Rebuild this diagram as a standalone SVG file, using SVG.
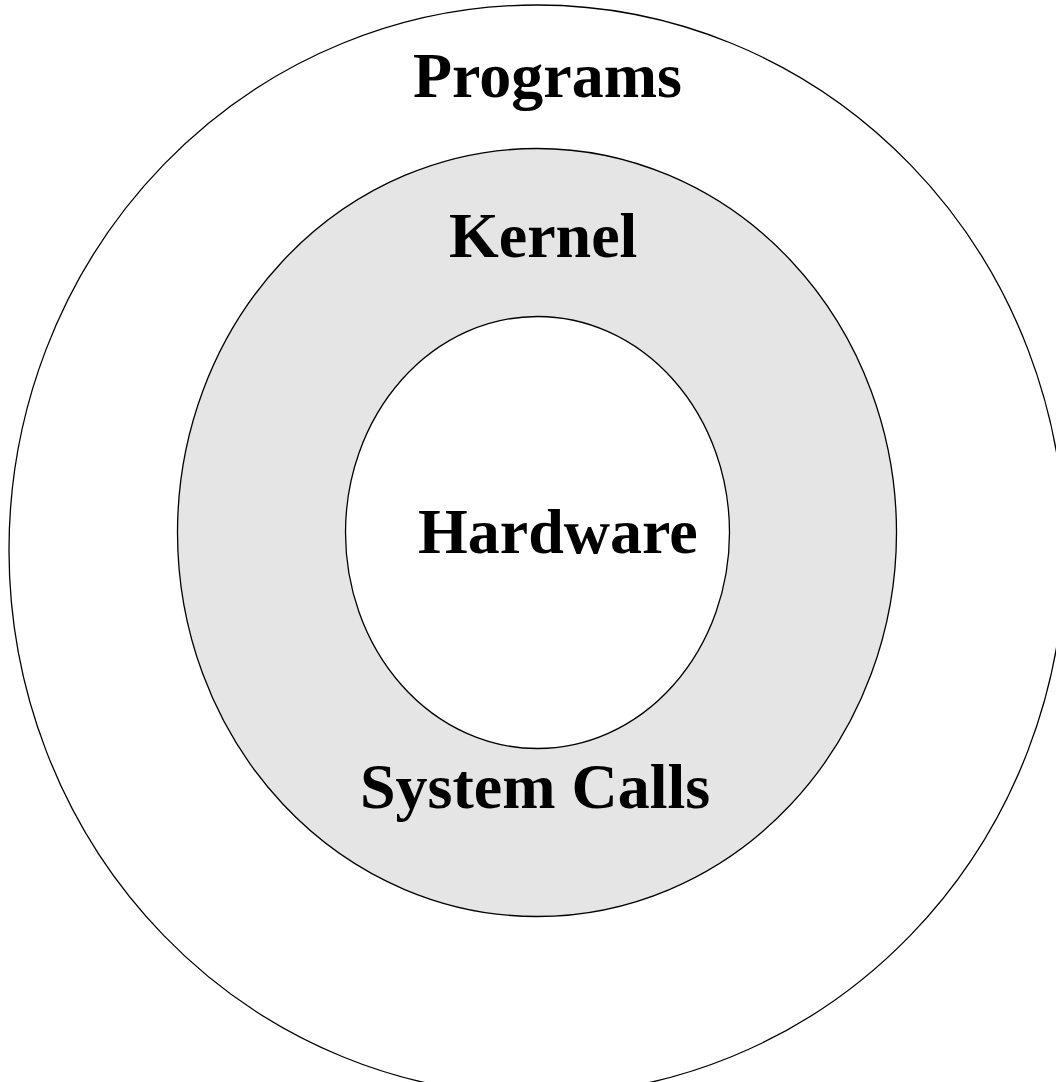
<svg xmlns="http://www.w3.org/2000/svg" width="1056" height="1082" viewBox="0 0 1056 1082">
<style>
.ring{stroke:#000;stroke-width:1.3}
.lbl{font-family:"Liberation Serif","Times New Roman",serif;font-weight:bold;font-size:64px;fill:#000}
</style>
<rect width="1056" height="1082" fill="#fff"/>
<g id="programs">
<ellipse class="ring" cx="537" cy="550" rx="528" ry="545" fill="#fff"/>
<text class="lbl" x="413" y="97">Programs</text>
</g>
<g id="kernel">
<ellipse class="ring" cx="537" cy="532.5" rx="359.5" ry="384" fill="#e5e5e5"/>
<text class="lbl" x="449" y="257">Kernel</text>
<text class="lbl" x="360" y="808">System Calls</text>
</g>
<g id="hardware">
<ellipse class="ring" cx="537.5" cy="532.5" rx="192" ry="216" fill="#fff"/>
<text class="lbl" x="418" y="553">Hardware</text>
</g>
<g id="connectors"/>
</svg>
